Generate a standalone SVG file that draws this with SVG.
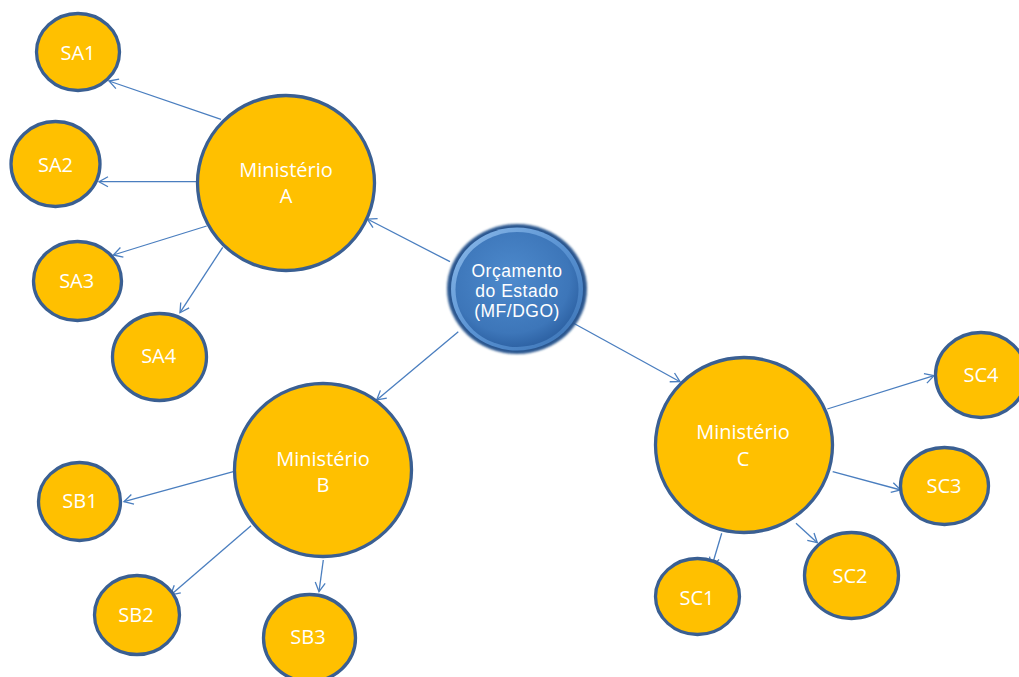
<svg xmlns="http://www.w3.org/2000/svg" width="1019" height="677" viewBox="0 0 1019 677">
<style>
.node ellipse{fill:#FFC000;stroke:#3A5F92;stroke-width:3.3}
.lbl{font-family:"Open Sans","Liberation Sans",sans-serif;fill:#FFFFFF;text-anchor:middle}
.s{font-size:20px}
.m{font-size:20px}
.c{font-family:"Liberation Sans","Open Sans",sans-serif;font-size:17.5px;letter-spacing:0.5px}
.edges line{stroke:#4A7EBF;stroke-width:1.3;fill:none;marker-end:url(#arr)}
</style>
<defs>
<marker id="arr" markerUnits="userSpaceOnUse" markerWidth="20" markerHeight="20" viewBox="-10 -10 20 20" refX="0" refY="0" orient="auto">
<path d="M-9,-5 L0,0 L-9,5" fill="none" stroke="#4A7EBF" stroke-width="1.3"/>
</marker>
<radialGradient id="body" cx="45%" cy="40%" r="60%">
<stop offset="0" stop-color="#4D8ACD"/>
<stop offset="0.8" stop-color="#3D76B9"/>
<stop offset="1" stop-color="#2F64A6"/>
</radialGradient>
<linearGradient id="ring" x1="0" y1="0" x2="1" y2="1">
<stop offset="0" stop-color="#8DBBEA"/>
<stop offset="0.5" stop-color="#5A93D3"/>
<stop offset="1" stop-color="#3A72B4"/>
</linearGradient>
<filter id="soft" x="-10%" y="-10%" width="120%" height="120%">
<feGaussianBlur stdDeviation="1"/>
</filter>
</defs>
<rect width="1019" height="677" fill="#FFFFFF"/>
<g class="edges" id="connectors">
<line x1="450" y1="261.7" x2="367.3" y2="219"/>
<line x1="458.3" y1="331.7" x2="376.7" y2="400"/>
<line x1="572.7" y1="322.7" x2="680" y2="381.7"/>
<line x1="221" y1="119.3" x2="109" y2="81"/>
<line x1="196.7" y1="181.7" x2="99" y2="181.7"/>
<line x1="206.7" y1="226" x2="113.3" y2="255"/>
<line x1="222.7" y1="247.3" x2="180" y2="312.7"/>
<line x1="233.3" y1="471.7" x2="124" y2="501.7"/>
<line x1="251" y1="525.7" x2="170.7" y2="595"/>
<line x1="323.3" y1="560" x2="319" y2="591.7"/>
<line x1="827.3" y1="409" x2="934" y2="375.7"/>
<line x1="832.7" y1="471.7" x2="900.7" y2="490"/>
<line x1="796" y1="523.3" x2="817.3" y2="542.7"/>
<line x1="721.7" y1="533.3" x2="711.7" y2="566.7"/>
</g>
<g class="node" id="orcamento">
<ellipse cx="517" cy="289" rx="70" ry="65" style="fill:#2A578F;stroke:none" filter="url(#soft)"/>
<ellipse cx="517" cy="289" rx="66" ry="61.5" style="fill:url(#ring);stroke:none"/>
<ellipse cx="517" cy="289.5" rx="61.5" ry="57.5" style="fill:url(#body);stroke:none"/>
<text class="lbl c" x="517" y="276.5">Orçamento</text>
<text class="lbl c" x="517" y="296.5">do Estado</text>
<text class="lbl c" x="517" y="316.5">(MF/DGO)</text>
</g>
<g class="node" id="ministerioA">
<ellipse cx="286" cy="183" rx="88.5" ry="87.5"/>
<text class="lbl m" x="286" y="177">Ministério</text>
<text class="lbl m" x="286" y="203">A</text>
</g>
<g class="node" id="ministerioB">
<ellipse cx="323" cy="470" rx="88.5" ry="86.5"/>
<text class="lbl m" x="323" y="466">Ministério</text>
<text class="lbl m" x="323" y="492">B</text>
</g>
<g class="node" id="ministerioC">
<ellipse cx="744" cy="445" rx="88.5" ry="87.5"/>
<text class="lbl m" x="743" y="439">Ministério</text>
<text class="lbl m" x="743" y="465.5">C</text>
</g>
<g class="node" id="SA1">
<ellipse cx="78" cy="52" rx="41.5" ry="38.5"/>
<text class="lbl s" x="78" y="60">SA1</text>
</g>
<g class="node" id="SA2">
<ellipse cx="55.5" cy="164" rx="44.5" ry="42.5"/>
<text class="lbl s" x="55.5" y="171.7">SA2</text>
</g>
<g class="node" id="SA3">
<ellipse cx="77.5" cy="281" rx="44" ry="39.5"/>
<text class="lbl s" x="76.7" y="287.7">SA3</text>
</g>
<g class="node" id="SA4">
<ellipse cx="159.5" cy="357" rx="47" ry="43.5"/>
<text class="lbl s" x="158.7" y="363.3">SA4</text>
</g>
<g class="node" id="SB1">
<ellipse cx="79.5" cy="501.5" rx="41" ry="39"/>
<text class="lbl s" x="80" y="508.3">SB1</text>
</g>
<g class="node" id="SB2">
<ellipse cx="137" cy="615" rx="42.5" ry="39.5"/>
<text class="lbl s" x="136" y="621.7">SB2</text>
</g>
<g class="node" id="SB3">
<ellipse cx="309.5" cy="638" rx="46" ry="43.5"/>
<text class="lbl s" x="308" y="644">SB3</text>
</g>
<g class="node" id="SC1">
<ellipse cx="697.5" cy="596.5" rx="42" ry="38"/>
<text class="lbl s" x="697" y="605">SC1</text>
</g>
<g class="node" id="SC2">
<ellipse cx="851.5" cy="575.5" rx="47" ry="43"/>
<text class="lbl s" x="850" y="582.7">SC2</text>
</g>
<g class="node" id="SC3">
<ellipse cx="944.5" cy="486" rx="44" ry="38.5"/>
<text class="lbl s" x="944" y="492.7">SC3</text>
</g>
<g class="node" id="SC4">
<ellipse cx="981" cy="375" rx="45.5" ry="42.5"/>
<text class="lbl s" x="981" y="382.3">SC4</text>
</g>
</svg>
